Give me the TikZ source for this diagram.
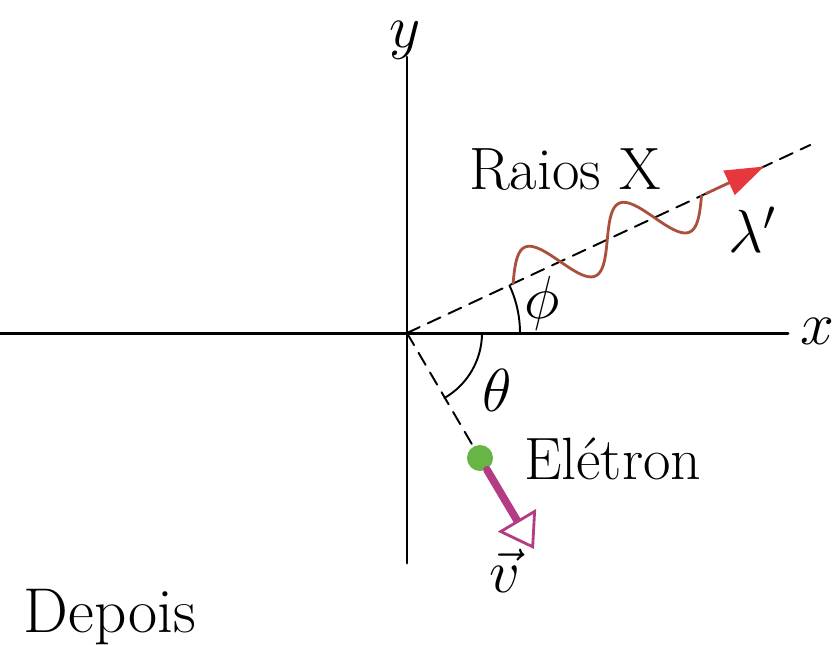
\documentclass[tikz,border=0pt]{standalone}
\usepackage{tikz}
\usetikzlibrary{arrows.meta,positioning}
\definecolor{xraybrown}{RGB}{170,80,60}
\definecolor{xrayred}{RGB}{230,55,60}
\definecolor{elgreen}{RGB}{105,180,70}
\definecolor{velmag}{RGB}{180,60,130}
\tikzstyle{axis}=[line width=0.85pt,black]
\tikzstyle{guide}=[line width=0.55pt,dash pattern=on 4pt off 2.5pt]
\tikzstyle{lbl}=[inner sep=1pt,font=\fontsize{17}{20}\selectfont]
\tikzstyle{particle}=[circle,fill=elgreen,minimum size=7.4pt,inner sep=0pt]

\begin{document}
\begin{tikzpicture}[x=0.01cm,y=0.01cm,
wave/.style={line width=0.8pt,xraybrown},
every path/.style={line cap=round}]
\useasboundingbox (-407,-311) rectangle (432,333);
\coordinate (O) at (0,0);
% axes
\coordinate (xl) at (-407,0);
\coordinate (xr) at (381,0);
\coordinate (yt) at (0,276);
\coordinate (yb) at (0,-230);
\draw [axis] (xl) -- (xr);
\draw [axis] (yb) -- (yt);
\node [lbl] (xlab) at (410,2) {$x$};
\node [lbl] (ylab) at (-2,293) {$y$};
% scattered photon
\coordinate (pend) at (25:445);
\draw [guide] (O) -- (pend);
\draw [line width=0.55pt] (0:113) arc (0:25:113);
\node [lbl] (phi) at (135,30) {$\phi$};
\begin{scope}[rotate=25]
\coordinate (wend) at (330,0);
\coordinate (wtip) at (394,0);
\draw [wave] plot[domain=0:2,samples=80,smooth] ({117+104*\x},{28*sin(360*\x)});
\draw [wave,-{Triangle[length=11pt,width=7.5pt,color=xrayred]}] (wend) -- (wtip);
\end{scope}
\node [lbl] (raios) at (158,163) {Raios X};
\node [lbl] (lam) at (346,103) {$\lambda'$};
% recoil electron
\node [particle] (e) at (73,-125) {};
\draw [guide] (O) -- (e);
\draw [line width=0.55pt] (0:75) arc (0:-60:75);
\node [lbl] (theta) at (90,-57) {$\theta$};
\node [lbl,anchor=west] (elab) at (113,-126) {Elétron};
\coordinate (vtip) at (127,-216);
\draw [line width=2.2pt,velmag,-{Triangle[open,length=9.5pt,width=12.5pt,line width=0.8pt,fill=white]}] (e) -- (vtip);
\node [lbl] (v) at (98,-238) {$\vec{v}$};
\node [lbl,font=\fontsize{18}{21}\selectfont] (depois) at (-297,-284) {Depois};
\end{tikzpicture}
\end{document}
